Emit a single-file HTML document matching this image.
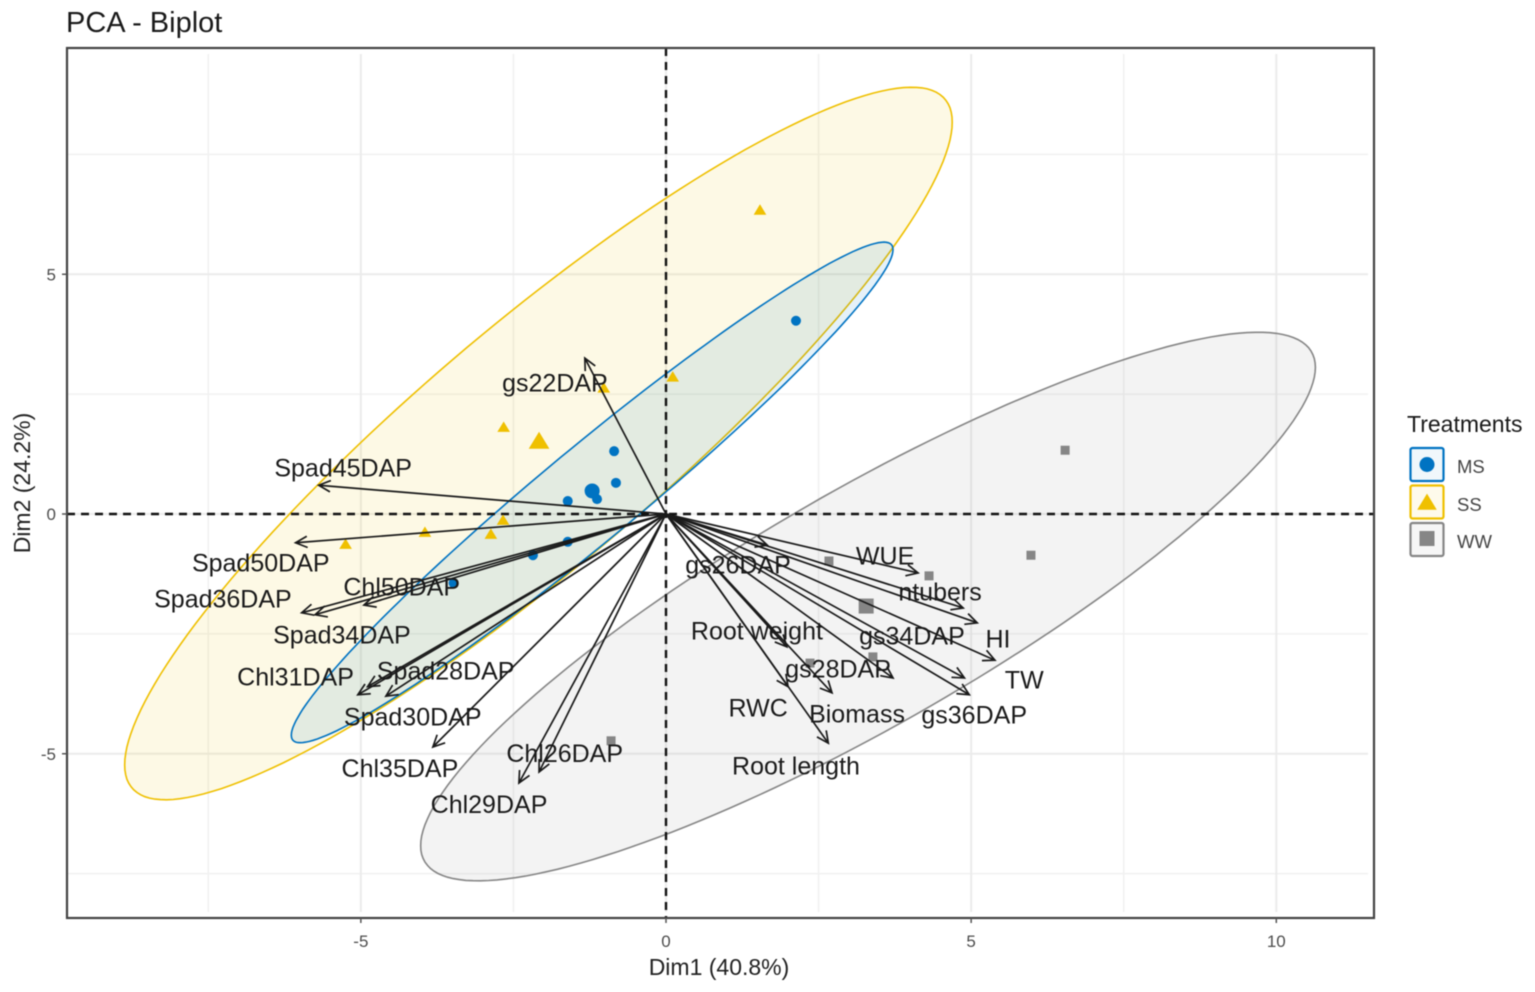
<!DOCTYPE html>
<html>
<head>
<meta charset="utf-8">
<title>PCA - Biplot</title>
<style>
html,body{margin:0;padding:0;background:#fff;}
#wrap{position:relative;width:1535px;height:992px;overflow:hidden;background:#fff;}
svg{display:block;filter:blur(0.45px);}
text{font-family:"Liberation Sans",sans-serif;}
</style>
</head>
<body>
<div id="wrap">
<svg id="chart" width="1535" height="992" viewBox="0 0 1535 992" xmlns="http://www.w3.org/2000/svg"></svg>
</div>
<script>
// ---- data (PCA coordinates) ----
var xMajorTicks = [-5, 0, 5, 10];
var xMinorTicks = [-7.5, -2.5, 2.5, 7.5];
var yMajorTicks = [-5, 0, 5];
var yMinorTicks = [-7.5, -2.5, 2.5, 7.5];

var groupNames = ['WW', 'SS', 'MS'];
var ellipseCenterX = [3.31, -2.09, -1.21];
var ellipseCenterY = [-1.93, 1.47, 0.45];
var ellipseSpreadX = [7.33, 6.78, 4.93];
var ellipseSpreadY = [5.72, 7.43, 5.22];
var ellipseCorr = [0.872, 0.902, 0.97];

var msDim1 = [2.13, -0.85, -0.82, -1.13, -1.25, -1.61, -1.61, -2.18, -3.48];
var msDim2 = [4.03, 1.31, 0.65, 0.31, 0.50, 0.27, -0.58, -0.86, -1.44];
var ssDim1 = [1.54, 0.11, -1.02, -2.66, -2.67, -2.87, -3.95, -5.25];
var ssDim2 = [6.34, 2.86, 2.63, 1.81, -0.13, -0.42, -0.38, -0.63];
var wwDim1 = [6.54, 5.98, 4.31, 2.67, 3.39, 2.36, -0.90];
var wwDim2 = [1.33, -0.86, -1.29, -0.98, -2.98, -3.11, -4.73];
var meanDim1 = [-1.21, -2.08, 3.28];
var meanDim2 = [0.48, 1.52, -1.92];

var variableNames = ['gs22DAP','Spad45DAP','Spad50DAP','Spad36DAP','Spad34DAP','Chl50DAP','Chl31DAP','Spad28DAP','Spad30DAP','Chl35DAP','Chl26DAP','Chl29DAP','WUE','ntubers','HI','TW','gs34DAP','gs36DAP','gs26DAP','Root weight','gs28DAP','Biomass','Root length','RWC'];
var loadingDim1 = [-1.33,-5.69,-6.07,-5.97,-5.75,-4.95,-5.05,-4.89,-4.59,-3.82,-2.08,-2.41,4.13,4.87,5.10,5.39,4.89,4.97,1.66,1.98,3.72,2.72,2.66,2.00];
var loadingDim2 = [3.25,0.60,-0.60,-2.06,-2.10,-1.90,-3.77,-3.60,-3.80,-4.86,-5.38,-5.61,-1.23,-1.96,-2.27,-3.05,-3.42,-3.77,-0.65,-2.77,-3.42,-3.73,-4.78,-3.60];
var labelDim1 = [-1.82,-5.29,-6.64,-7.26,-5.31,-4.33,-6.07,-3.61,-4.15,-4.36,-1.66,-2.90,3.59,4.49,5.44,5.87,4.03,5.05,1.18,1.49,2.82,3.13,2.13,1.51];
var labelDim2 = [2.73,0.96,-1.02,-1.77,-2.52,-1.52,-3.40,-3.27,-4.23,-5.31,-4.99,-6.06,-0.88,-1.63,-2.61,-3.46,-2.54,-4.19,-1.06,-2.44,-3.23,-4.17,-5.26,-4.05];
// ---- end data ----

var NS = 'http://www.w3.org/2000/svg';
var svg = document.getElementById('chart');
var panel = {left: 67, right: 1374, top: 48, bottom: 918};

function xScale(v) { return 666 + v * 61.03; }
function yScale(v) { return 514 - v * 47.95; }

function mk(tag, attrs, parent) {
  var el = document.createElementNS(NS, tag);
  for (var k in attrs) el.setAttribute(k, attrs[k]);
  (parent || svg).appendChild(el);
  return el;
}

var colors = {MS: '#0073C2', SS: '#EFC000', WW: '#868686'};

// background
var bg = mk('rect', {x: 0, y: 0, width: 1535, height: 992, fill: '#ffffff'});



// grid
var grid = mk('g', {});


xMinorTicks.forEach(function (t) {
  var l = mk('line', {x1: xScale(t), x2: xScale(t), y1: panel.top + 6, y2: panel.bottom - 6, stroke: '#f1f1f1', 'stroke-width': 1.6}, grid);
  
  
});
yMinorTicks.forEach(function (t) {
  var l = mk('line', {x1: panel.left, x2: panel.right - 6, y1: yScale(t), y2: yScale(t), stroke: '#f1f1f1', 'stroke-width': 1.6}, grid);
  
  
});
xMajorTicks.forEach(function (t) {
  var l = mk('line', {x1: xScale(t), x2: xScale(t), y1: panel.top + 6, y2: panel.bottom - 6, stroke: '#ebebeb', 'stroke-width': 2}, grid);
  
  
});
yMajorTicks.forEach(function (t) {
  var l = mk('line', {x1: panel.left, x2: panel.right - 6, y1: yScale(t), y2: yScale(t), stroke: '#ebebeb', 'stroke-width': 2}, grid);
  
  
});

// concentration ellipses
function ellipsePath(i) {
  var phi = Math.acos(ellipseCorr[i]);
  var d = '';
  for (var s = 0; s < 180; s++) {
    var t = s / 180 * 2 * Math.PI;
    var px = xScale(ellipseCenterX[i] + ellipseSpreadX[i] * Math.cos(t));
    var py = yScale(ellipseCenterY[i] + ellipseSpreadY[i] * Math.cos(t - phi));
    d += (s ? 'L' : 'M') + px.toFixed(1) + ' ' + py.toFixed(1);
  }
  return d + 'Z';
}
groupNames.forEach(function (g, i) {
  var p = mk('path', {d: ellipsePath(i), fill: colors[g], 'fill-opacity': 0.1, stroke: colors[g], 'stroke-width': 1.6});
  
  
});

// zero reference lines
var h0 = mk('line', {x1: panel.left, x2: panel.right, y1: yScale(0), y2: yScale(0), stroke: '#111', 'stroke-width': 2.4, 'stroke-dasharray': '8 6'});


var v0 = mk('line', {x1: xScale(0), x2: xScale(0), y1: panel.top, y2: panel.bottom, stroke: '#111', 'stroke-width': 2.4, 'stroke-dasharray': '8 6'});



// markers
function circle(x, y, size, color, parent) {
  return mk('circle', {cx: x, cy: y, r: size / 2, fill: color}, parent);
}
function triangle(x, y, size, color, parent) {
  var h = size * 0.95, w = size * 1.15;
  var pts = x + ',' + (y - h * 0.55) + ' ' + (x - w / 2) + ',' + (y + h * 0.45) + ' ' + (x + w / 2) + ',' + (y + h * 0.45);
  return mk('polygon', {points: pts, fill: color}, parent);
}
function square(x, y, size, color, parent) {
  return mk('rect', {x: x - size / 2, y: y - size / 2, width: size, height: size, fill: color}, parent);
}

var msPts = mk('g', {});


msDim1.forEach(function (v, i) {
  var m = circle(xScale(v), yScale(msDim2[i]), 10, colors.MS, msPts);
  
  
});
var ssPts = mk('g', {});


ssDim1.forEach(function (v, i) {
  var m = triangle(xScale(v), yScale(ssDim2[i]), 11, colors.SS, ssPts);
  
  
});
var wwPts = mk('g', {});


wwDim1.forEach(function (v, i) {
  var m = square(xScale(v), yScale(wwDim2[i]), 9, colors.WW, wwPts);
  
  
});
var mean1 = circle(xScale(meanDim1[0]), yScale(meanDim2[0]), 15, colors.MS);


var mean2 = triangle(xScale(meanDim1[1]), yScale(meanDim2[1]), 18, colors.SS);


var mean3 = square(xScale(meanDim1[2]), yScale(meanDim2[2]), 15, colors.WW);



// variable arrows
var arrows = mk('g', {});


variableNames.forEach(function (name, i) {
  var x0 = xScale(0), y0 = yScale(0), x1 = xScale(loadingDim1[i]), y1 = yScale(loadingDim2[i]);
  var a = Math.atan2(y1 - y0, x1 - x0), len = 13, spread = 0.45;
  var d = 'M' + x0 + ' ' + y0 + 'L' + x1 + ' ' + y1 +
    'M' + (x1 - len * Math.cos(a - spread)) + ' ' + (y1 - len * Math.sin(a - spread)) +
    'L' + x1 + ' ' + y1 +
    'L' + (x1 - len * Math.cos(a + spread)) + ' ' + (y1 - len * Math.sin(a + spread));
  var p = mk('path', {d: d, fill: 'none', stroke: '#1a1a1a', 'stroke-width': 1.7}, arrows);
  
  
});

// variable labels
var labels = mk('g', {});


variableNames.forEach(function (name, i) {
  var t = mk('text', {x: xScale(labelDim1[i]), y: yScale(labelDim2[i]) + 8.5, 'text-anchor': 'middle', 'font-size': 25, fill: '#1a1a1a'}, labels);
  t.textContent = name;
  
  
});

// panel border
var border = mk('rect', {x: panel.left, y: panel.top, width: panel.right - panel.left, height: panel.bottom - panel.top, fill: 'none', stroke: '#444', 'stroke-width': 2.2});



// axis ticks
xMajorTicks.forEach(function (t) {
  var tick = mk('line', {x1: xScale(t), x2: xScale(t), y1: panel.bottom, y2: panel.bottom + 5, stroke: '#555', 'stroke-width': 1.5});
  
  
  var lab = mk('text', {x: xScale(t), y: 947, 'text-anchor': 'middle', 'font-size': 17, fill: '#4d4d4d'});
  lab.textContent = t;
  
  
});
yMajorTicks.forEach(function (t) {
  var tick = mk('line', {x1: panel.left - 5, x2: panel.left, y1: yScale(t), y2: yScale(t), stroke: '#555', 'stroke-width': 1.5});
  
  
  var lab = mk('text', {x: 56, y: yScale(t) + 6, 'text-anchor': 'end', 'font-size': 17, fill: '#4d4d4d'});
  lab.textContent = t;
  
  
});

// titles
var title = mk('text', {x: 66, y: 32, 'font-size': 29, fill: '#1a1a1a'});
title.textContent = 'PCA - Biplot';


var xTitle = mk('text', {x: 719, y: 975, 'text-anchor': 'middle', 'font-size': 23, fill: '#222'});
xTitle.textContent = 'Dim1 (40.8%)';


var yTitle = mk('text', {x: 30, y: 483, 'text-anchor': 'middle', 'font-size': 23, fill: '#222', transform: 'rotate(-90 30 483)'});
yTitle.textContent = 'Dim2 (24.2%)';



// legend
var legend = mk('g', {});


var legTitle = mk('text', {x: 1407, y: 432, 'font-size': 23, fill: '#1a1a1a'}, legend);
legTitle.textContent = 'Treatments';



var legMS = mk('g', {}, legend);


mk('rect', {x: 1410.5, y: 448, width: 33, height: 33, rx: 2, fill: colors.MS, 'fill-opacity': 0.06, stroke: colors.MS, 'stroke-width': 2.2}, legMS);
circle(1427, 464.5, 15, colors.MS, legMS);
var legMSt = mk('text', {x: 1457, y: 473, 'font-size': 18.5, fill: '#444'}, legMS);
legMSt.textContent = 'MS';

var legSS = mk('g', {}, legend);


mk('rect', {x: 1410.5, y: 485.5, width: 33, height: 33, rx: 2, fill: colors.SS, 'fill-opacity': 0.08, stroke: colors.SS, 'stroke-width': 2.2}, legSS);
triangle(1427, 502.5, 17, colors.SS, legSS);
var legSSt = mk('text', {x: 1457, y: 511, 'font-size': 18.5, fill: '#444'}, legSS);
legSSt.textContent = 'SS';

var legWW = mk('g', {}, legend);


mk('rect', {x: 1410.5, y: 523, width: 33, height: 33, rx: 2, fill: colors.WW, 'fill-opacity': 0.08, stroke: colors.WW, 'stroke-width': 2.2}, legWW);
square(1427, 538.5, 15, colors.WW, legWW);
var legWWt = mk('text', {x: 1457, y: 548, 'font-size': 18.5, fill: '#444'}, legWW);
legWWt.textContent = 'WW';
</script>
</body>
</html>
